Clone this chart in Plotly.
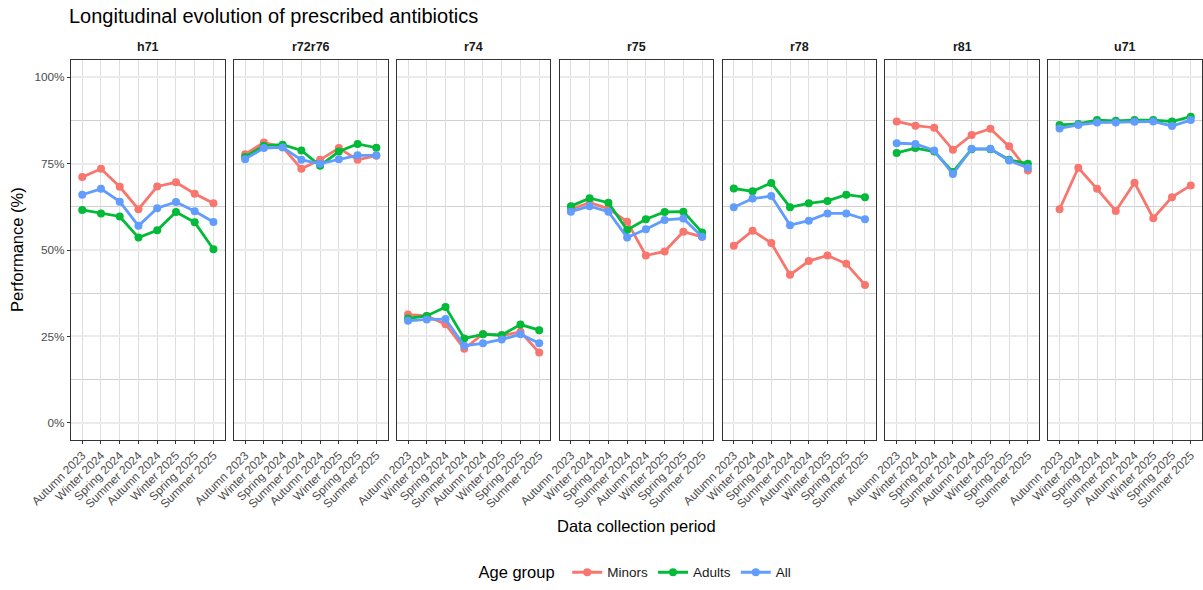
import plotly.graph_objects as go

# Collection periods (x axis categories)
periods = ["Autumn 2023", "Winter 2024", "Spring 2024", "Summer 2024",
           "Autumn 2024", "Winter 2025", "Spring 2025", "Summer 2025"]

# Facets (one panel per site)
sites = ["h71", "r72r76", "r74", "r75", "r78", "r81", "u71"]

# Performance (%) by site for each age group
minors = {
    "h71":    [71.1, 73.5, 68.3, 61.8, 68.4, 69.6, 66.3, 63.5],
    "r72r76": [77.7, 81.1, 79.8, 73.5, 76.1, 79.5, 76.1, 77.3],
    "r74":    [31.3, 30.9, 28.5, 21.4, 25.7, 25.2, 26.3, 20.3],
    "r75":    [61.8, 63.7, 62.0, 58.2, 48.4, 49.6, 55.3, 53.8],
    "r78":    [51.2, 55.6, 52.0, 42.8, 46.8, 48.4, 46.0, 39.9],
    "r81":    [87.2, 86.0, 85.4, 79.0, 83.3, 85.1, 80.0, 73.0],
    "u71":    [61.8, 73.8, 67.7, 61.3, 69.5, 59.2, 65.3, 68.7],
}
adults = {
    "h71":    [61.6, 60.6, 59.7, 53.6, 55.7, 61.0, 58.0, 50.2],
    "r72r76": [76.9, 80.2, 80.5, 78.8, 74.4, 78.5, 80.7, 79.6],
    "r74":    [30.2, 30.9, 33.5, 24.4, 25.6, 25.4, 28.4, 26.8],
    "r75":    [62.7, 65.0, 63.7, 55.8, 58.9, 61.0, 61.1, 55.1],
    "r78":    [67.8, 67.0, 69.4, 62.4, 63.5, 64.2, 66.0, 65.3],
    "r81":    [78.1, 79.5, 78.5, 72.6, 79.2, 79.2, 76.1, 75.0],
    "u71":    [86.2, 86.5, 87.6, 87.4, 87.6, 87.6, 87.2, 88.6],
}
all_ages = {
    "h71":    [66.0, 67.7, 64.0, 57.0, 62.1, 63.9, 61.2, 58.1],
    "r72r76": [76.3, 79.5, 79.7, 76.1, 75.0, 76.3, 77.4, 77.4],
    "r74":    [29.5, 29.9, 30.0, 22.3, 23.0, 24.1, 25.6, 23.0],
    "r75":    [61.1, 62.7, 61.1, 53.6, 56.0, 58.7, 59.1, 53.8],
    "r78":    [62.4, 64.9, 65.6, 57.2, 58.5, 60.6, 60.6, 58.9],
    "r81":    [80.9, 80.7, 78.8, 72.0, 79.3, 79.3, 75.9, 73.8],
    "u71":    [85.2, 86.2, 86.9, 86.9, 87.1, 87.2, 85.9, 87.6],
}

groups = [("Minors", minors, "#F8766D"),
          ("Adults", adults, "#00BA38"),
          ("All", all_ages, "#619CFF")]

y_ticks = [0, 25, 50, 75, 100]
y_labels = ["0%", "25%", "50%", "75%", "100%"]

FONT = "Liberation Sans, Arial, sans-serif"
W, H = 1203, 590
M_L, M_R, M_T, M_B = 71, 1, 60, 147
plot_w = W - M_L - M_R
plot_h = H - M_T - M_B
gap_px = 9.2
panel_px = (plot_w - gap_px * (len(sites) - 1)) / len(sites)

fig = go.Figure()
x_pos = list(range(1, len(periods) + 1))

for i, site in enumerate(sites):
    suffix = "" if i == 0 else str(i + 1)
    for name, data, color in groups:
        fig.add_trace(go.Scatter(
            x=x_pos, y=data[site], mode="lines+markers", name=name,
            legendgroup=name, showlegend=(i == 0),
            line=dict(color=color, width=2.8),
            marker=dict(color=color, size=8),
            xaxis="x" + suffix, yaxis="y" + suffix,
            customdata=periods,
            hovertemplate="%{customdata}: %{y:.1f}%<extra>" + name + "</extra>",
        ))

    x0 = i * (panel_px + gap_px) / plot_w
    x1 = x0 + panel_px / plot_w
    axis_common = dict(showline=True, mirror=True, linecolor="#333333", linewidth=1,
                       zeroline=False, ticks="outside", ticklen=3, tickcolor="#333333",
                       tickfont=dict(family=FONT, size=11.8, color="#4d4d4d"))
    fig.layout["xaxis" + suffix] = dict(
        domain=[x0, x1], anchor="y" + suffix, range=[0.4, 8.6],
        tickmode="array", tickvals=x_pos, ticktext=periods, tickangle=-45,
        showgrid=True, gridcolor="#dedede", gridwidth=1.3,
        **axis_common)
    fig.layout["yaxis" + suffix] = dict(
        domain=[0, 1], anchor="x" + suffix, range=[-5, 105],
        tickmode="array", tickvals=y_ticks, ticktext=y_labels,
        showticklabels=(i == 0),
        showgrid=True, gridcolor="#ebebeb", gridwidth=2,
        minor=dict(tickmode="array", tickvals=[12.5, 37.5, 62.5, 87.5],
                   showgrid=True, gridcolor="#d0d0d0", gridwidth=1, ticks=""),
        **axis_common)
    if i > 0:
        fig.layout["yaxis" + suffix]["ticks"] = ""

    # facet strip label
    fig.add_annotation(x=(x0 + x1) / 2, y=1 + 13 / plot_h, xref="paper", yref="paper",
                       text="<b>" + site + "</b>", showarrow=False,
                       font=dict(family=FONT, size=12.5, color="#1a1a1a"),
                       xanchor="center", yanchor="middle")

# axis titles
fig.add_annotation(x=0.5, y=-(530 - (H - M_B)) / plot_h, xref="paper", yref="paper",
                   text="Data collection period", showarrow=False,
                   font=dict(family=FONT, size=16.5, color="black"),
                   xanchor="center", yanchor="middle")
fig.add_annotation(x=-(M_L - 17) / plot_w, y=0.5, xref="paper", yref="paper",
                   text="Performance (%)", showarrow=False, textangle=-90,
                   font=dict(family=FONT, size=16.5, color="black"),
                   xanchor="center", yanchor="middle")

fig.update_layout(
    width=W, height=H,
    margin=dict(l=M_L, r=M_R, t=M_T, b=M_B),
    paper_bgcolor="white", plot_bgcolor="white",
    font=dict(family=FONT, color="black"),
    title=dict(text="Longitudinal evolution of prescribed antibiotics",
               x=69 / W, xanchor="left", xref="container",
               y=1 - 16 / H, yanchor="middle", yref="container",
               font=dict(family=FONT, size=20, color="black")),
    legend=dict(orientation="h", x=0.5, xanchor="center",
                y=-(577 - (H - M_B)) / plot_h, yanchor="middle",
                title=dict(text="Age group ", side="left",
                           font=dict(family=FONT, size=16.5, color="black")),
                font=dict(family=FONT, size=13.5, color="#1a1a1a"),
                itemwidth=30, tracegroupgap=0),
    showlegend=True,
)

fig.write_html("out.html")
